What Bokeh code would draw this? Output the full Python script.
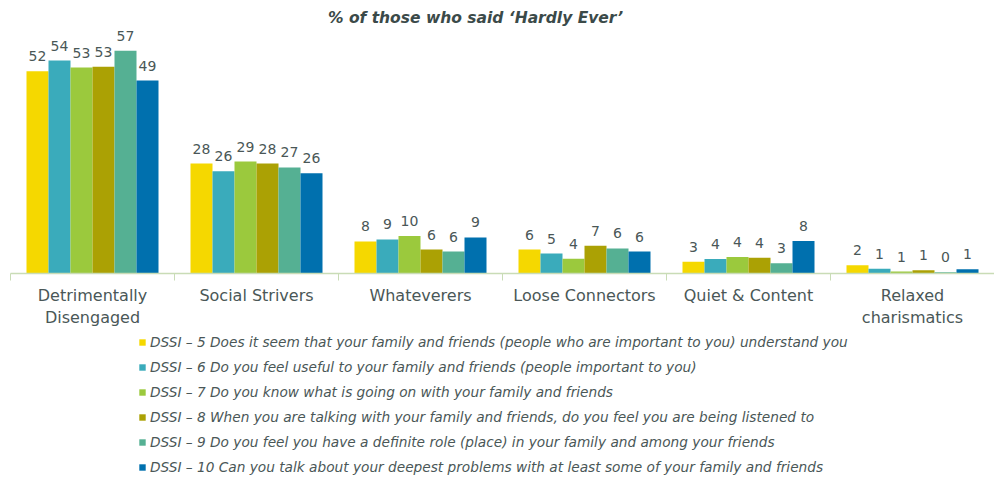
from bokeh.plotting import figure
from bokeh.layouts import column
from bokeh.models import (Range1d, LinearAxis, FixedTicker, Legend, LegendItem,
                          ColumnDataSource, Label)
from bokeh.embed import file_html
from bokeh.resources import INLINE
from bokeh.core.properties import value

title_text = "% of those who said \u2018Hardly Ever\u2019"
categories = ["Detrimentally\nDisengaged", "Social Strivers", "Whateverers",
              "Loose Connectors", "Quiet & Content", "Relaxed\ncharismatics"]
series_names = [
    "DSSI \u2013 5 Does it seem that your family and friends (people who are important to you) understand you",
    "DSSI \u2013 6 Do you feel useful to your family and friends (people important to you)",
    "DSSI \u2013 7 Do you know what is going on with your family and friends",
    "DSSI \u2013 8 When you are talking with your family and friends, do you feel you are being listened to",
    "DSSI \u2013 9 Do you feel you have a definite role (place) in your family and among your friends",
    "DSSI \u2013 10 Can you talk about your deepest problems with at least some of your family and friends",
]
dssi5 = [51.7, 28.1, 8.2, 6.1, 3.0, 2.1]
dssi6 = [54.4, 26.1, 8.7, 5.1, 3.7, 1.2]
dssi7 = [52.6, 28.6, 9.6, 3.8, 4.2, 0.5]
dssi8 = [52.8, 28.1, 6.1, 7.1, 4.0, 0.8]
dssi9 = [56.9, 27.1, 5.6, 6.4, 2.6, 0.3]
dssi10 = [49.3, 25.6, 9.2, 5.6, 8.3, 1.1]
series = [dssi5, dssi6, dssi7, dssi8, dssi9, dssi10]
colors = ["#f5d800", "#3aabbb", "#9bc93d", "#aba104", "#55b093", "#0070ae"]

FONT = "DejaVu Sans"
TEXT_COLOR = "#4a5757"

p = figure(width=994, height=330, output_backend="svg", toolbar_location=None,
           x_range=Range1d(0, 6), y_range=Range1d(0, 67.7),
           x_axis_type=None, y_axis_type=None,
           min_border_left=10, min_border_right=0, min_border_top=8,
           min_border_bottom=57)
p.outline_line_color = None
p.xgrid.visible = False
p.ygrid.visible = False

bw = 22 / 164
for j, (vals, col) in enumerate(zip(series, colors)):
    xs = [i + 0.5 + (j - 2.5) * bw for i in range(len(categories))]
    src = ColumnDataSource(dict(x=xs, top=vals,
                                lab=[str(int(v + 0.5)) for v in vals]))
    p.vbar(x="x", top="top", width=bw, bottom=0, source=src,
           fill_color=col, line_color=None)
    p.text(x="x", y="top", text="lab", source=src, text_align="center",
           text_baseline="bottom", y_offset=-10, text_font=value(FONT),
           text_font_size="14px", text_color=TEXT_COLOR)

ax = LinearAxis(ticker=FixedTicker(ticks=[i + 0.5 for i in range(6)],
                                   minor_ticks=list(range(7))))
ax.major_label_overrides = {i + 0.5: c for i, c in enumerate(categories)}
ax.axis_line_color = "#c9dcb6"
ax.axis_line_width = 1.5
ax.major_tick_line_color = None
ax.major_tick_out = 0
ax.major_tick_in = 0
ax.minor_tick_line_color = "#c9dcb6"
ax.minor_tick_out = 7
ax.minor_tick_in = 0
ax.major_label_standoff = 5
ax.major_label_text_font = FONT
ax.major_label_text_font_size = "16px"
ax.major_label_text_color = TEXT_COLOR
p.add_layout(ax, "below")

p.add_layout(Label(x=3, y=65.2, x_offset=-27, text=title_text, text_align="center",
                   text_baseline="middle", text_font=FONT, text_font_size="15.5px",
                   text_font_style="bold italic", text_color="#3b4a49"))

# legend panel
lp = figure(width=994, height=148, output_backend="svg", toolbar_location=None,
            x_range=Range1d(0, 1), y_range=Range1d(0, 1),
            x_axis_type=None, y_axis_type=None,
            min_border_left=0, min_border_right=0, min_border_top=0,
            min_border_bottom=0)
lp.outline_line_color = None
lp.xgrid.visible = False
lp.ygrid.visible = False
items = []
for col, name in zip(colors, series_names):
    # zero-height proxy bar: only its legend swatch is seen
    r = lp.vbar(x=[0], top=[0], bottom=0, width=0.01, fill_color=col, line_color=None)
    items.append(LegendItem(label=name, renderers=[r]))

legend = Legend(items=items, location=(128, 0), orientation="vertical",
                label_text_font=FONT, label_text_font_style="italic",
                label_text_font_size="13.7px", label_text_color=TEXT_COLOR,
                glyph_width=8, glyph_height=8, label_height=22, spacing=3,
                label_standoff=4, padding=0, margin=0,
                border_line_color=None, background_fill_alpha=0)
lp.add_layout(legend)

open("out.html", "w").write(file_html(column(p, lp, spacing=0), INLINE))
